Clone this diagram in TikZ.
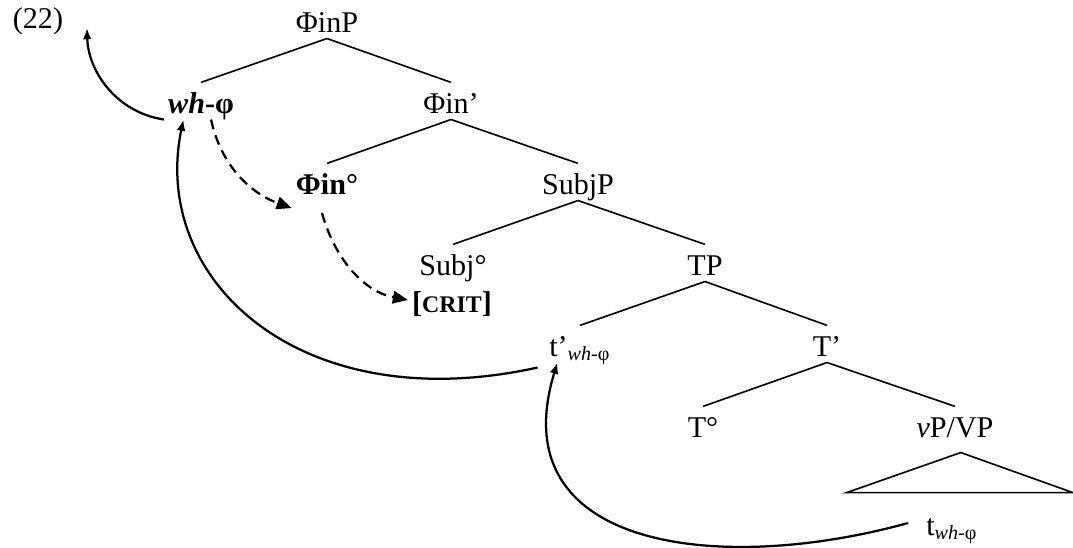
\documentclass[tikz,border=0pt]{standalone}
\usepackage{fontspec}
\setmainfont{Liberation Serif}
\usetikzlibrary{arrows.meta, calc}

\begin{document}
\begin{tikzpicture}[
    x=0.014cm, y=0.014cm,
    cat/.style={
        anchor=base,
        inner xsep=1.5pt,
        inner ysep=2.4pt,
        text height=9.6pt,
        text depth=0pt,
        font=\fontsize{12}{14}\selectfont
    },
    branch/.style={
        line width=0.65pt
    },
    move/.style={
        line width=0.9pt,
        -{Latex[length=4.5pt, width=3.5pt]}
    },
    agree/.style={
        line width=0.9pt,
        dash pattern=on 4pt off 2.5pt,
        -{Triangle[length=6pt, width=5pt]}
    }
]
    \useasboundingbox (0,0) rectangle (1073,-547);

    % Example number
    \node[cat] (ex_lbl) at (38,-28) {(22)};

    % Tree labels
    \node[cat] (finp_lbl) at (327,-32) {ΦinP};
    \node[cat] (wh_lbl) at (201,-113) {\textbf{\textit{wh}-φ}};
    \node[cat] (finbar_lbl) at (451,-113) {Φin’};
    \node[cat] (fin_lbl) at (327,-194) {\textbf{Φin°}};
    \node[cat] (subjp_lbl) at (578,-194) {SubjP};
    \node[cat] (subj_lbl) at (453,-275) {Subj°};
    \node[cat] (crit_lbl) at (452,-312) {\textbf{[{\fontsize{9.5}{10}\selectfont CRIT}]}};
    \node[cat] (tp_lbl) at (705,-275) {TP};
    \node[cat] (tprime_lbl) at (580,-356) {t’\textsubscript{\textit{wh}-φ}};
    \node[cat] (tbar_lbl) at (827,-356) {T’};
    \node[cat] (t_lbl) at (703,-437) {T°};
    \node[cat] (vp_lbl) at (955,-437) {\textit{v}P/VP};
    \node[cat] (trace_lbl) at (952,-535) {t\textsubscript{\textit{wh}-φ}};

    % Branches
    \draw[branch] (finp_lbl.south) -- (wh_lbl.north);
    \draw[branch] (finp_lbl.south) -- (finbar_lbl.north);
    \draw[branch] (finbar_lbl.south) -- (fin_lbl.north);
    \draw[branch] (finbar_lbl.south) -- (subjp_lbl.north);
    \draw[branch] (subjp_lbl.south) -- (subj_lbl.north);
    \draw[branch] (subjp_lbl.south) -- (tp_lbl.north);
    \draw[branch] (tp_lbl.south) -- (tprime_lbl.north);
    \draw[branch] (tp_lbl.south) -- (tbar_lbl.north);
    \draw[branch] (tbar_lbl.south) -- (t_lbl.north);
    \draw[branch] (tbar_lbl.south) -- (vp_lbl.north);
    \draw[branch] ([xshift=2.3pt, yshift=-3.6pt]vp_lbl.south) -- ++(-114,-40) -- ++(226,0) -- cycle;

    % Movement arrows
    \coordinate (top_end) at (87,-28);
    \draw[move] (wh_lbl.south west) .. controls (115,-112) and (88,-70) .. (top_end);
    \draw[move] ([xshift=-3pt, yshift=-2pt]tprime_lbl.south west) .. controls (300,-420) and (150,-280) .. ([xshift=-7pt]wh_lbl.south);
    \draw[move] ([xshift=-5.5pt]trace_lbl.west) .. controls (720,-575) and (500,-550) .. ([xshift=-9pt]tprime_lbl.south);

    % Agreement arrows
    \draw[agree] ([xshift=4pt]wh_lbl.south) .. controls (222,-170) and (255,-195) .. ([yshift=-3pt]fin_lbl.south west);
    \draw[agree] ([xshift=-2pt, yshift=-5pt]fin_lbl.south) .. controls (335,-260) and (365,-292) .. (crit_lbl.west);
\end{tikzpicture}
\end{document}
